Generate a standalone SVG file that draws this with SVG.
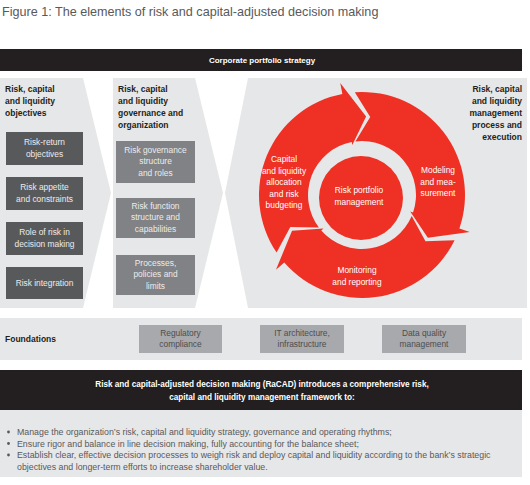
<svg xmlns="http://www.w3.org/2000/svg" xmlns:xlink="http://www.w3.org/1999/xlink" width="530" height="485" viewBox="0 0 530 485">
<style>
text{font-family:"Liberation Sans",Arial,sans-serif;}
.title{font-size:12.6px;fill:#58595b;}
.hdr{font-size:8.5px;font-weight:bold;fill:#231f20;}
.bar{font-size:8px;font-weight:bold;fill:#ffffff;}
.bar2{font-size:8.2px;font-weight:bold;fill:#ffffff;}
.panel{fill:#e6e7e8;}
.dbox{fill:#58595b;}
.mbox{fill:#808285;}
.fbox{fill:#a7a9ac;}
.bt{font-size:8.4px;fill:#ececec;text-anchor:middle;}
.ft{font-size:8.4px;fill:#4d4d4f;text-anchor:middle;}
.rt{font-size:8.4px;fill:#ffffff;text-anchor:middle;}
.red{fill:#ee3124;}
.bul{font-size:8.8px;fill:#58595b;}
</style>
<defs>
<path id="seg" d="M276.6,252.6 A103,103 0 0 1 342.35,93.9 L340.25,83.1 L366.1,116.6 L352.27,144.94 L351.7,142.0 A54,54 0 0 0 318.9,227.5 L290.3,226.9 Z"/>
</defs>
<text class="title" x="2" y="16">Figure 1: The elements of risk and capital-adjusted decision making</text>

<g id="corporate-strategy">
<rect x="0" y="49" width="522" height="22" fill="#231f20"/>
<text class="bar" x="262" y="63" text-anchor="middle">Corporate portfolio strategy</text>
</g>

<g id="objectives">
<polygon class="panel" points="0,78 83,78 111,193 83,308 0,308"/>
<text class="hdr"><tspan x="5" y="92">Risk, capital</tspan><tspan x="5" y="104">and liquidity</tspan><tspan x="5" y="116">objectives</tspan></text>
<rect class="dbox" x="6" y="132" width="77" height="33"/>
<text class="bt"><tspan x="44.5" y="145">Risk-return</tspan><tspan x="44.5" y="156.5">objectives</tspan></text>
<rect class="dbox" x="6" y="177" width="77" height="33"/>
<text class="bt"><tspan x="44.5" y="190">Risk appetite</tspan><tspan x="44.5" y="201.5">and constraints</tspan></text>
<rect class="dbox" x="6" y="222" width="77" height="33"/>
<text class="bt"><tspan x="44.5" y="235">Role of risk in</tspan><tspan x="44.5" y="246.5">decision making</tspan></text>
<rect class="dbox" x="6" y="267" width="77" height="32"/>
<text class="bt" x="44.5" y="286">Risk integration</text>
</g>

<g id="governance">
<polygon class="panel" points="113,78 195,78 223,193 195,308 113,308"/>
<text class="hdr"><tspan x="118" y="92">Risk, capital</tspan><tspan x="118" y="104">and liquidity</tspan><tspan x="118" y="116">governance and</tspan><tspan x="118" y="128">organization</tspan></text>
<rect class="mbox" x="116" y="141" width="79" height="42"/>
<text class="bt"><tspan x="155.5" y="152.5">Risk governance</tspan><tspan x="155.5" y="164">structure</tspan><tspan x="155.5" y="175.5">and roles</tspan></text>
<rect class="mbox" x="116" y="198" width="79" height="40"/>
<text class="bt"><tspan x="155.5" y="208.5">Risk function</tspan><tspan x="155.5" y="220">structure and</tspan><tspan x="155.5" y="231.5">capabilities</tspan></text>
<rect class="mbox" x="116" y="255" width="79" height="40"/>
<text class="bt"><tspan x="155.5" y="265.5">Processes,</tspan><tspan x="155.5" y="277">policies and</tspan><tspan x="155.5" y="288.5">limits</tspan></text>
</g>

<g id="process">
<polygon class="panel" points="248,78 527,78 527,308 248,308 225,193"/>
<text class="hdr" text-anchor="end"><tspan x="522" y="92">Risk, capital</tspan><tspan x="522" y="104">and liquidity</tspan><tspan x="522" y="116">management</tspan><tspan x="522" y="128">process and</tspan><tspan x="522" y="140">execution</tspan></text>
</g>

<g id="allocation">
<use xlink:href="#seg" class="red"/>
<text class="rt"><tspan x="284" y="162">Capital</tspan><tspan x="284" y="173.5">and liquidity</tspan><tspan x="284" y="185">allocation</tspan><tspan x="284" y="196.5">and risk</tspan><tspan x="284" y="208">budgeting</tspan></text>
</g>
<g id="modeling">
<use xlink:href="#seg" class="red" transform="rotate(120 362 195)"/>
<text class="rt"><tspan x="438" y="173">Modeling</tspan><tspan x="438" y="184.5">and mea-</tspan><tspan x="438" y="196">surement</tspan></text>
</g>
<g id="monitoring">
<use xlink:href="#seg" class="red" transform="rotate(240 362 195)"/>
<text class="rt"><tspan x="357" y="273">Monitoring</tspan><tspan x="357" y="284.5">and reporting</tspan></text>
</g>
<g id="risk-portfolio">
<circle class="red" cx="361" cy="198" r="42"/>
<text class="rt"><tspan x="359" y="193">Risk portfolio</tspan><tspan x="359" y="204.5">management</tspan></text>
</g>

<g id="foundations">
<rect class="panel" x="0" y="318" width="522" height="42"/>
<text class="hdr" x="5" y="342">Foundations</text>
<rect class="fbox" x="139" y="325" width="83" height="28"/>
<text class="ft"><tspan x="180.5" y="336">Regulatory</tspan><tspan x="180.5" y="347">compliance</tspan></text>
<rect class="fbox" x="260" y="325" width="84" height="28"/>
<text class="ft"><tspan x="302" y="336">IT architecture,</tspan><tspan x="302" y="347">infrastructure</tspan></text>
<rect class="fbox" x="382" y="325" width="84" height="28"/>
<text class="ft"><tspan x="424" y="336">Data quality</tspan><tspan x="424" y="347">management</tspan></text>
</g>

<g id="racad">
<rect x="0" y="370" width="522" height="40" fill="#231f20"/>
<text class="bar2" text-anchor="middle"><tspan x="262" y="387">Risk and capital-adjusted decision making (RaCAD) introduces a comprehensive risk,</tspan><tspan x="262" y="400">capital and liquidity management framework to:</tspan></text>
<rect class="panel" x="0" y="410" width="522" height="67"/>
<circle cx="8.5" cy="432" r="1.4" fill="#58595b"/>
<circle cx="8.5" cy="443.5" r="1.4" fill="#58595b"/>
<circle cx="8.5" cy="455" r="1.4" fill="#58595b"/>
<text class="bul"><tspan x="17" y="435">Manage the organization’s risk, capital and liquidity strategy, governance and operating rhythms;</tspan><tspan x="17" y="446.5">Ensure rigor and balance in line decision making, fully accounting for the balance sheet;</tspan><tspan x="17" y="458">Establish clear, effective decision processes to weigh risk and deploy capital and liquidity according to the bank’s strategic</tspan><tspan x="17" y="469.5">objectives and longer-term efforts to increase shareholder value.</tspan></text>
</g>
</svg>
